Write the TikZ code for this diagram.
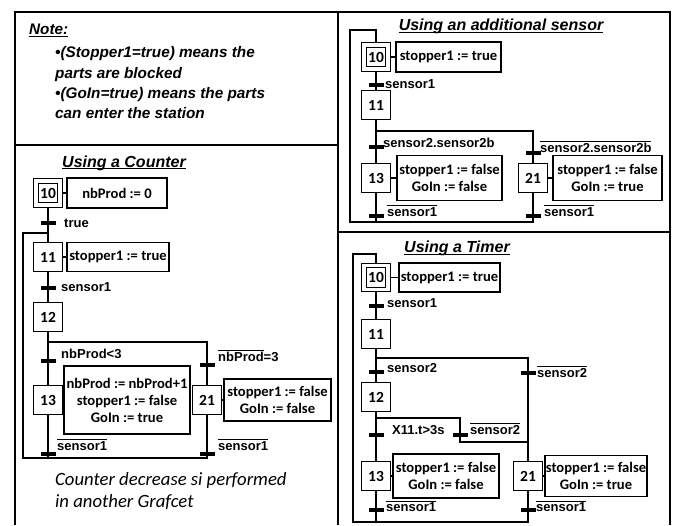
\documentclass[tikz,border=0pt]{standalone}
\usepackage{fontspec}
\usepackage{tikz}

\newfontfamily\arialfont{Liberation Sans}
\newfontfamily\calfont{Carlito}

\newcommand\notsig[1]{$\overline{\mbox{#1}}$}
\newcommand\ultext[1]{\setbox0\hbox{#1}\rlap{\rule[-2.4pt]{\wd0}{1.1pt}}\box0}

\tikzset{
  frame/.style={line width=2.4pt},
  wire/.style={line width=1.3pt},
  stepbox/.style={draw, line width=1.2pt, minimum size=29pt, inner sep=0pt,
    font=\calfont\bfseries\fontsize{15.5}{17}\selectfont},
  initstep/.style={stepbox, double, double distance=3.2pt, minimum size=24pt, outer sep=2.8pt},
  actbox/.style={draw, line width=1.2pt, align=center, inner sep=0pt,
    font=\calfont\bfseries\fontsize{14.6}{17}\selectfont},
  trbar/.style={fill, minimum width=15pt, minimum height=3.5pt, inner sep=0pt},
  trlabel/.style={anchor=base west, inner sep=0pt,
    font=\arialfont\bfseries\fontsize{13}{15}\selectfont},
  paneltitle/.style={anchor=base, inner sep=0pt,
    font=\arialfont\bfseries\itshape\fontsize{16}{18}\selectfont},
  notetext/.style={anchor=base west, inner sep=0pt,
    font=\arialfont\bfseries\itshape\fontsize{15.3}{18}\selectfont},
  caption/.style={anchor=base west, inner sep=0pt,
    font=\calfont\itshape\fontsize{18.7}{20}\selectfont}
}

\begin{document}
\begin{tikzpicture}[x=1pt,y=-1pt]
    \useasboundingbox (0,0) rectangle (676,525);

    % Panel frames
    \draw[frame] (15,525) -- (15,12) -- (670,12) -- (670,525);
    \draw[frame] (338,12) -- (338,525);
    \draw[frame] (15,145) -- (338,145);
    \draw[frame] (338,232) -- (670,232);

    % Note
    \node[notetext] (note0) at (29,34.5) {\ultext{Note:}};
    \node[notetext] (note1) at (55,57.5) {•(Stopper1=true) means the};
    \node[notetext] (note2) at (55,78) {parts are blocked};
    \node[notetext] (note3) at (55,98.5) {•(GoIn=true) means the parts};
    \node[notetext] (note4) at (55,118) {can enter the station};

    % Using a Counter
    \node[paneltitle] (tc) at (124,167) {\ultext{Using a Counter}};
    \node[initstep] (c10) at (48,193) {10};
    \node[actbox, minimum width=100pt, minimum height=30pt] (ac10) at (117,193) {nbProd := 0};
    \node[trbar] (ct1) at (48,223) {};
    \node[trlabel] (lct1) at (64,227) {true};
    \coordinate (cj) at (48,233);
    \node[stepbox] (c11) at (48,257) {11};
    \node[actbox, minimum width=102pt, minimum height=29pt] (ac11) at (118,257) {stopper1 := true};
    \node[trbar] (ct2) at (48,288) {};
    \node[trlabel] (lct2) at (61,291.5) {sensor1};
    \node[stepbox] (c12) at (48,317) {12};
    \coordinate (cd) at (207,342);
    \node[trbar] (ct3) at (48,361) {};
    \node[trlabel] (lct3) at (61,358) {nbProd<3};
    \node[trbar] (ct4) at (207,365) {};
    \node[trlabel] (lct4) at (218,361.5) {\notsig{nbProd}=3};
    \node[stepbox] (c13) at (48,400) {13};
    \node[actbox, minimum width=126pt, minimum height=68pt] (ac13) at (127,400) {nbProd := nbProd+1\\stopper1 := false\\GoIn := true};
    \node[stepbox] (c21) at (207,400) {21};
    \node[actbox, minimum width=107pt, minimum height=42pt] (ac21) at (277.5,400) {stopper1 := false\\GoIn := false};
    \node[trbar] (ct5) at (48,454) {};
    \node[trlabel] (lct5) at (57,450) {\notsig{sensor1}};
    \node[trbar] (ct6) at (207,454) {};
    \node[trlabel] (lct6) at (218,450) {\notsig{sensor1}};
    \coordinate (cb) at (23,458);

    \draw[wire] (c10) -- (ct1.center) -- (c11);
    \draw[wire] (c11) -- (ct2.center) -- (c12);
    \draw[wire] (c12) -- (ct3.center) -- (c13);
    \draw[wire] (c12.south |- cd) -- (cd) -- (ct4.center) -- (c21);
    \draw[wire] (c13) -- (ct5.center) -- (ct5.center |- cb) -- (cb) |- (cj);
    \draw[wire] (c21) -- (ct6.center) |- (cb);
    \draw[wire] (c10) -- (ac10);
    \draw[wire] (c11) -- (ac11);
    \draw[wire] (c13) -- (ac13);
    \draw[wire] (c21) -- (ac21);

    \node[caption] (cap1) at (55,485) {Counter decrease si performed};
    \node[caption] (cap2) at (55,507) {in another Grafcet};

    % Using an additional sensor
    \node[paneltitle] (ts) at (501,30.5) {\ultext{Using an additional sensor}};
    \node[initstep] (s10) at (376,57) {10};
    \node[actbox, minimum width=105pt, minimum height=30pt] (as10) at (448.5,57) {stopper1 := true};
    \coordinate (sa) at (350,30);
    \node[trbar] (st1) at (376,85) {};
    \node[trlabel] (lst1) at (385,88.5) {sensor1};
    \node[stepbox] (s11) at (376,105) {11};
    \coordinate (sd) at (533,131);
    \node[trbar] (st2) at (376,147) {};
    \node[trlabel] (lst2) at (383,147) {sensor2.sensor2b};
    \node[trbar] (st3) at (533,153) {};
    \node[trlabel] (lst3) at (540,152) {\notsig{sensor2.sensor2b}};
    \node[stepbox] (s13) at (376,178) {13};
    \node[actbox, minimum width=105pt, minimum height=45pt] (as13) at (449.5,178) {stopper1 := false\\GoIn := false};
    \node[stepbox] (s21) at (533,178) {21};
    \node[actbox, minimum width=109pt, minimum height=45pt] (as21) at (607.5,178) {stopper1 := false\\GoIn := true};
    \node[trbar] (st4) at (376,216) {};
    \node[trlabel] (lst4) at (387,216) {\notsig{sensor1}};
    \node[trbar] (st5) at (533,216) {};
    \node[trlabel] (lst5) at (544,216) {\notsig{sensor1}};
    \coordinate (sb) at (350,222);

    \draw[wire] (s10) -- (st1.center) -- (s11);
    \draw[wire] (s11) -- (st2.center) -- (s13);
    \draw[wire] (s11.south |- sd) -- (sd) -- (st3.center) -- (s21);
    \draw[wire] (s13) -- (st4.center) -- (st4.center |- sb);
    \draw[wire] (s21) -- (st5.center) |- (sb) -- (sa) -| (s10.north);
    \draw[wire] (s10) -- (as10);
    \draw[wire] (s13) -- (as13);
    \draw[wire] (s21) -- (as21);

    % Using a Timer
    \node[paneltitle] (tt) at (457,252.5) {\ultext{Using a Timer}};
    \node[initstep] (t10) at (376,277.5) {10};
    \node[actbox, minimum width=101pt, minimum height=29pt] (at10) at (449.5,277.5) {stopper1 := true};
    \coordinate (ta) at (353,254);
    \node[trbar] (tt1) at (376,306) {};
    \node[trlabel] (ltt1) at (387,307) {sensor1};
    \node[stepbox] (t11) at (376,334) {11};
    \coordinate (td) at (528,358);
    \node[trbar] (tt2) at (376,372) {};
    \node[trlabel] (ltt2) at (387,372.5) {sensor2};
    \node[trbar] (tt3) at (528,373) {};
    \node[trlabel] (ltt3) at (537,377) {\notsig{sensor2}};
    \node[stepbox] (t12) at (376,397) {12};
    \coordinate (td2) at (460,418);
    \node[trbar] (tt4) at (376,435) {};
    \node[trlabel] (ltt4) at (392,434) {X11.t>3s};
    \node[trbar] (tt5) at (460,435) {};
    \node[trlabel] (ltt5) at (470,434) {\notsig{sensor2}};
    \coordinate (tj) at (528,442);
    \node[stepbox] (t13) at (376,476) {13};
    \node[actbox, minimum width=106pt, minimum height=44pt] (at13) at (446,476) {stopper1 := false\\GoIn := false};
    \node[stepbox] (t21) at (528,476) {21};
    \node[actbox, minimum width=102pt, minimum height=41pt] (at21) at (596,476) {stopper1 := false\\GoIn := true};
    \node[trbar] (tt6) at (376,510) {};
    \node[trlabel] (ltt6) at (386,511.5) {\notsig{sensor1}};
    \node[trbar] (tt7) at (528,510) {};
    \node[trlabel] (ltt7) at (536,511.5) {\notsig{sensor1}};
    \coordinate (tb) at (353,522);

    \draw[wire] (t10) -- (tt1.center) -- (t11);
    \draw[wire] (t11) -- (tt2.center) -- (t12);
    \draw[wire] (t11.south |- td) -- (td) -- (tt3.center) -- (t21);
    \draw[wire] (t12) -- (tt4.center) -- (t13);
    \draw[wire] (t12.south |- td2) -- (td2) -- (tt5.center) -- (td2 |- tj) -- (tj);
    \draw[wire] (t13) -- (tt6.center) -- (tt6.center |- tb);
    \draw[wire] (t21) -- (tt7.center) |- (tb) -- (ta) -| (t10.north);
    \draw[wire] (t10) -- (at10);
    \draw[wire] (t13) -- (at13);
    \draw[wire] (t21) -- (at21);
\end{tikzpicture}
\end{document}
